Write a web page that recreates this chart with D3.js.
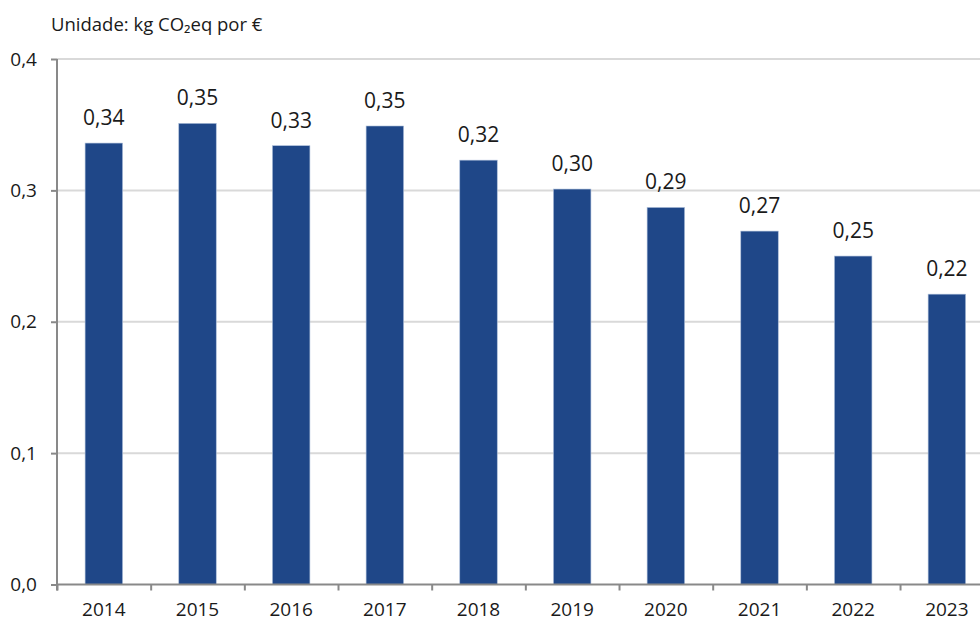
<!DOCTYPE html>
<html>
<head>
<meta charset="utf-8">
<script src="https://cdn.jsdelivr.net/npm/d3@7"></script>
<style>
  body { margin: 0; background: #fff; }
  svg { display: block; font-family: 'Open Sans', sans-serif; }
</style>
</head>
<body>
<svg id="chart"></svg>
<script>
const years = ['2014', '2015', '2016', '2017', '2018', '2019', '2020', '2021', '2022', '2023']
const values = [0.336, 0.351, 0.334, 0.349, 0.323, 0.301, 0.287, 0.269, 0.250, 0.221]
const yTicks = [0, 0.1, 0.2, 0.3, 0.4]
const unitLabel = 'Unidade: kg CO₂eq por €'

const width = 980,
  height = 619
const plotLeft = 57,
  plotBottom = 584.5,
  plotTop = 59,
  step = 93.67

const svg = d3.select('#chart').attr('width', width).attr('height', height)

const pt = d3.formatLocale({ decimal: ',', thousands: '.', grouping: [3], currency: ['', '€'] })
const fmt2 = pt.format('.2f')
const fmt1 = pt.format('.1f')

const x = d3
  .scaleBand()
  .domain(years)
  .range([plotLeft, plotLeft + step * years.length])
  .paddingInner(0.6)
  .paddingOuter(0.3)

// boundaries between categories, for the small tick marks
const xb = d3.scaleLinear().domain([0, years.length]).range([plotLeft, plotLeft + step * years.length])

const y = d3.scaleLinear().domain([0, 0.4]).range([plotBottom, plotTop])

// gridlines
svg
  .append('g')
  .selectAll('line')
  .data(yTicks.filter((d) => d > 0))
  .enter()
  .append('line')
  .attr('x1', plotLeft)
  .attr('x2', width)
  .attr('y1', (d) => y(d))
  .attr('y2', (d) => y(d))
  .attr('stroke', '#d9d9d9')
  .attr('stroke-width', 2)

// bars
svg
  .append('g')
  .selectAll('rect')
  .data(values)
  .enter()
  .append('rect')
  .attr('x', (d, i) => x(years[i]))
  .attr('y', (d) => y(d))
  .attr('width', x.bandwidth())
  .attr('height', (d) => plotBottom - y(d))
  .attr('fill', '#1f4788')
  .attr('stroke', '#a9bcd8')
  .attr('stroke-width', 0.6)

// value labels
svg
  .append('g')
  .selectAll('text')
  .data(values)
  .enter()
  .append('text')
  .attr('x', (d, i) => x(years[i]) + x.bandwidth() / 2)
  .attr('y', (d) => y(d) - 18)
  .attr('text-anchor', 'middle')
  .attr('font-size', 21)
  .attr('fill', '#1a1a1a')
  .text((d) => fmt2(d))

// y axis
const yAxis = d3.axisLeft(y).tickValues(yTicks).tickSize(6).tickPadding(14).tickFormat(fmt1)
const gy = svg.append('g').attr('transform', `translate(${plotLeft},0)`).call(yAxis)
gy.select('.domain').attr('stroke', '#898989').attr('stroke-width', 2).attr('d', `M0,${plotTop}V${plotBottom + 6}`)
gy.selectAll('.tick line').attr('stroke', '#898989').attr('stroke-width', 2)
gy.selectAll('.tick text').attr('font-size', 19).attr('fill', '#1a1a1a').attr('font-family', 'Open Sans, sans-serif')

// x axis: baseline and boundary ticks
const xTickAxis = d3.axisBottom(xb).tickValues(d3.range(0, years.length)).tickSize(6).tickFormat('')
const gx = svg.append('g').attr('transform', `translate(0,${plotBottom})`).call(xTickAxis)
gx.select('.domain').attr('stroke', '#898989').attr('stroke-width', 2).attr('d', `M${plotLeft},0H${width}`)
gx.selectAll('.tick line').attr('stroke', '#898989').attr('stroke-width', 2)

// x axis labels
const xLabelAxis = d3.axisBottom(x).tickSize(0).tickPadding(18)
const gxl = svg.append('g').attr('transform', `translate(0,${plotBottom})`).call(xLabelAxis)
gxl.select('.domain').remove()
gxl.selectAll('.tick text').attr('font-size', 19).attr('fill', '#1a1a1a').attr('font-family', 'Open Sans, sans-serif')

// unit label
svg
  .append('text')
  .attr('x', 51)
  .attr('y', 31)
  .attr('font-size', 18.5)
  .attr('fill', '#1a1a1a')
  .text(unitLabel)
</script>
</body>
</html>
